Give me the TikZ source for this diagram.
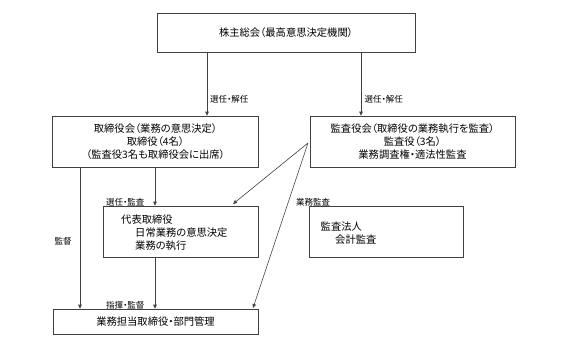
\documentclass[tikz,border=0pt]{standalone}
\usepackage{fontspec}
\setmainfont{Noto Sans CJK JP}[RawFeature={+palt}]
\usetikzlibrary{arrows.meta}
\begin{document}
\begin{tikzpicture}[x=1pt,y=-1pt,
 box/.style={draw=black!75, line width=0.6pt, inner sep=0pt, align=center, font=\fontsize{10.3}{13.4}\selectfont},
 lbl/.style={font=\fontsize{8.5}{9}\selectfont, inner sep=0pt, anchor=west},
 txt/.style={font=\fontsize{10.3}{13.4}\selectfont, inner sep=0pt, anchor=west},
 arr/.style={draw=black!75, line width=0.6pt, -{Triangle[length=4pt,width=3.5pt]}}]
\useasboundingbox (0,0) rectangle (567,348);
\fill[white] (0,0) rectangle (567,348);

\node[box, minimum width=258pt, minimum height=38.5pt] (top) at (286,32.7) {株主総会（最高意思決定機関）};
\node[box, minimum width=206pt, minimum height=51pt] (board) at (155.5,141.5) {取締役会（業務の意思決定）\\取締役（4名）\\（監査役3名も取締役会に出席）};
\node[box, minimum width=205pt, minimum height=51pt] (kansa) at (412.5,141.5) {監査役会（取締役の業務執行を監査）\\監査役（3名）\\業務調査権・適法性監査};
\node[box, minimum width=155pt, minimum height=51pt] (daihyo) at (180.5,231.5) {};
\node[box, minimum width=154pt, minimum height=51pt] (hojin) at (386,231.5) {};
\node[box, minimum width=205pt, minimum height=25pt] (bottom) at (155.5,321.5) {業務担当取締役・部門管理};

\node[txt] (d1) at (121,220) {代表取締役};
\node[txt] (d2) at (135,233) {日常業務の意思決定};
\node[txt] (d3) at (135,246) {業務の執行};
\node[txt] (h1) at (320.5,227) {監査法人};
\node[txt] (h2) at (335,239.5) {会計監査};

\node[lbl] (l1) at (210,99) {選任・解任};
\node[lbl] (l2) at (364.5,99) {選任・解任};
\node[lbl] (l3) at (106,202) {選任・監査};
\node[lbl] (l4) at (296,202) {業務監査};
\node[lbl] (l5) at (54.5,240.8) {監督};
\node[lbl] (l6) at (106,305) {指揮・監督};

\coordinate (a1) at (207,0);
\coordinate (a2) at (361,0);
\coordinate (a3) at (80,0);
\coordinate (a4) at (155,0);
\coordinate (s) at (308,143);
\coordinate (e1) at (233,204);
\coordinate (e2) at (253,308);

\draw[arr] (top.south -| a1) -- (board.north -| a1);
\draw[arr] (top.south -| a2) -- (kansa.north -| a2);
\draw[arr] (board.south -| a3) -- (bottom.north -| a3);
\draw[arr] (board.south -| a4) -- (daihyo.north -| a4);
\draw[arr] (daihyo.south -| a4) -- (bottom.north -| a4);
\draw[arr] (s) -- (e1);
\draw[arr] (s) -- (e2);
\end{tikzpicture}
\end{document}
